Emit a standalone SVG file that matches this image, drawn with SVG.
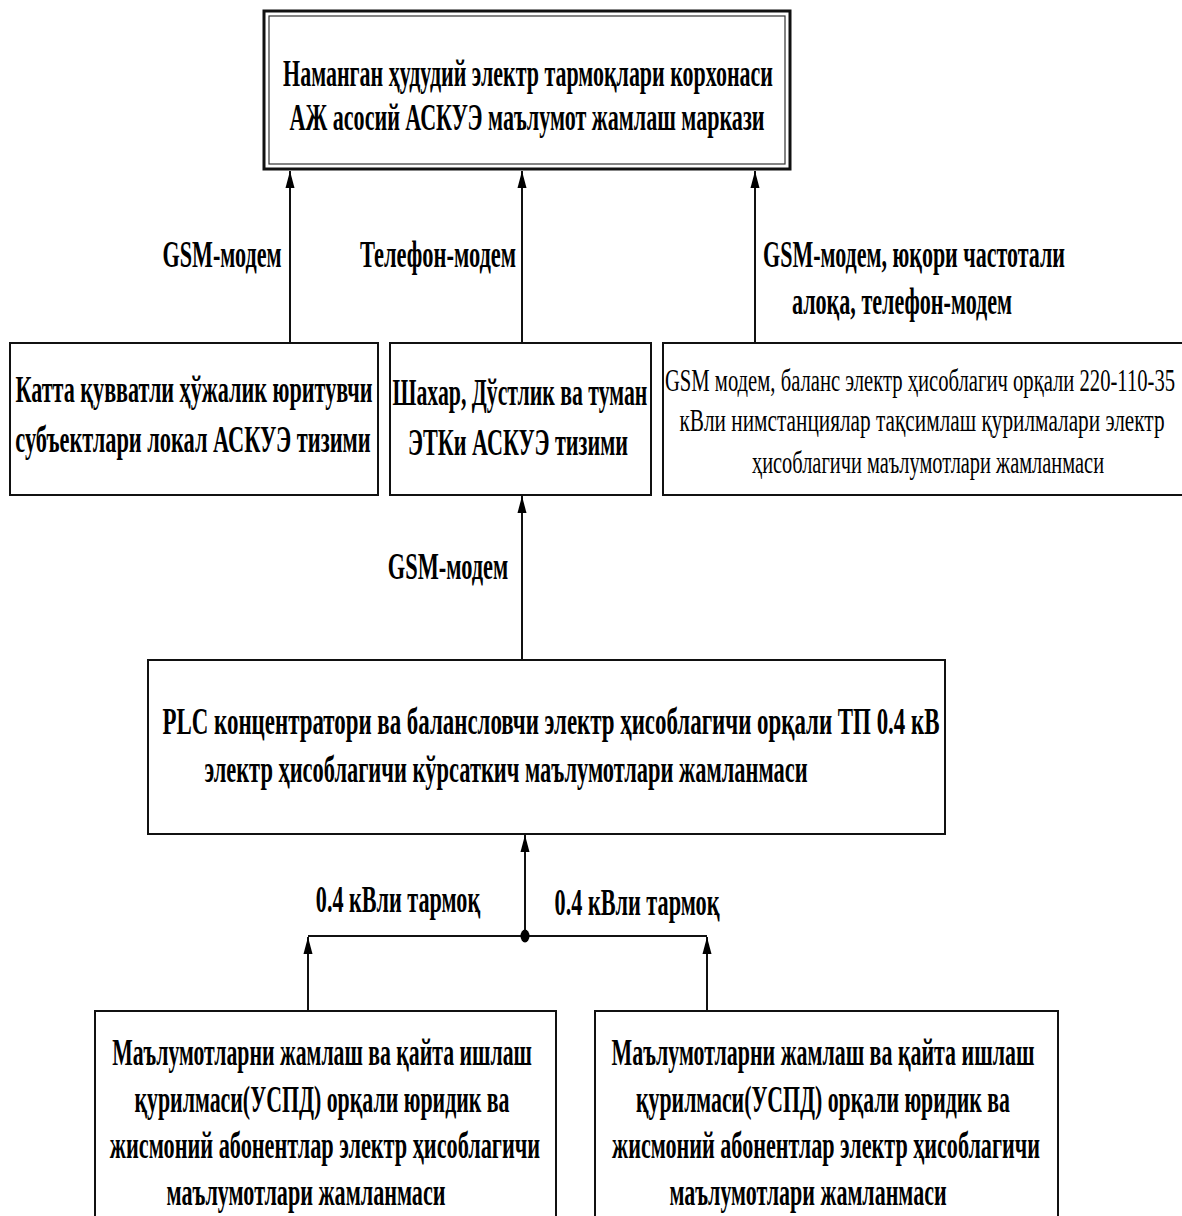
<svg xmlns="http://www.w3.org/2000/svg" width="1182" height="1216" viewBox="0 0 1182 1216">
<defs>
<style>
.box{fill:#fff;stroke:#111;stroke-width:2}
.t{font-family:"Liberation Serif","DejaVu Serif",serif;font-weight:bold;font-size:37px;fill:#000;text-anchor:middle}
.r{font-family:"Liberation Serif","DejaVu Serif",serif;font-weight:normal;font-size:31px;fill:#000;text-anchor:middle}
.c{stroke:#111;stroke-width:2;fill:none}
</style>
<marker id="ah" markerWidth="18" markerHeight="10" refX="17" refY="5" orient="auto" markerUnits="userSpaceOnUse">
<path d="M0,0.5 L17,5 L0,9.5 z" fill="#000"/>
</marker>
</defs>
<rect width="1182" height="1216" fill="#fff"/>

<g id="connectors">
<line class="c" x1="290" y1="343" x2="290" y2="171" marker-end="url(#ah)"/>
<line class="c" x1="522" y1="343" x2="522" y2="171" marker-end="url(#ah)"/>
<line class="c" x1="755" y1="343" x2="755" y2="171" marker-end="url(#ah)"/>
<line class="c" x1="522" y1="660" x2="522" y2="496" marker-end="url(#ah)"/>
<line class="c" x1="525" y1="936" x2="525" y2="835" marker-end="url(#ah)"/>
<line class="c" x1="308" y1="936" x2="707" y2="936"/>
<line class="c" x1="308" y1="1011" x2="308" y2="937" marker-end="url(#ah)"/>
<line class="c" x1="707" y1="1011" x2="707" y2="937" marker-end="url(#ah)"/>
<ellipse cx="525" cy="936" rx="4.5" ry="6.5" fill="#000"/>
<text class="t" transform="translate(222,267) scale(0.62,1)" textLength="192" lengthAdjust="spacingAndGlyphs">GSM-модем</text>
<text class="t" transform="translate(438,267) scale(0.62,1)" textLength="252" lengthAdjust="spacingAndGlyphs">Телефон-модем</text>
<text class="t" transform="translate(914,267) scale(0.62,1)" textLength="487" lengthAdjust="spacingAndGlyphs">GSM-модем, юқори частотали</text>
<text class="t" transform="translate(902,314) scale(0.62,1)" textLength="355" lengthAdjust="spacingAndGlyphs">алоқа, телефон-модем</text>
<text class="t" transform="translate(448,579) scale(0.62,1)" textLength="194" lengthAdjust="spacingAndGlyphs">GSM-модем</text>
<text class="t" transform="translate(398,912) scale(0.62,1)" textLength="265" lengthAdjust="spacingAndGlyphs">0.4 кВли тармоқ</text>
<text class="t" transform="translate(637,915) scale(0.62,1)" textLength="266" lengthAdjust="spacingAndGlyphs">0.4 кВли тармоқ</text>
</g>

<g id="node-main">
<rect x="264" y="11" width="526" height="158" fill="#fff" stroke="#111" stroke-width="3"/>
<rect x="269" y="16" width="516" height="148" fill="none" stroke="#333" stroke-width="1.2"/>
<text class="t" transform="translate(528,86) scale(0.62,1)" textLength="790" lengthAdjust="spacingAndGlyphs" style="font-size:38px">Наманган ҳудудий электр тармоқлари корхонаси</text>
<text class="t" transform="translate(527,130) scale(0.62,1)" textLength="766" lengthAdjust="spacingAndGlyphs" style="font-size:38px">АЖ асосий АСКУЭ маълумот жамлаш маркази</text>
</g>

<g id="node-local">
<rect class="box" x="10" y="343" width="368" height="152"/>
<text class="t" transform="translate(194,402) scale(0.62,1)" textLength="576" lengthAdjust="spacingAndGlyphs">Катта қувватли ҳўжалик юритувчи</text>
<text class="t" transform="translate(193,452) scale(0.62,1)" textLength="573" lengthAdjust="spacingAndGlyphs">субъектлари локал АСКУЭ тизими</text>
</g>

<g id="node-city">
<rect class="box" x="390" y="343" width="261" height="152"/>
<text class="t" transform="translate(520,405) scale(0.62,1)" textLength="411" lengthAdjust="spacingAndGlyphs">Шахар, Дўстлик ва туман</text>
<text class="t" transform="translate(518,455) scale(0.62,1)" textLength="355" lengthAdjust="spacingAndGlyphs">ЭТКи АСКУЭ тизими</text>
</g>

<g id="node-substation">
<rect class="box" x="663" y="343" width="530" height="152"/>
<text class="r" transform="translate(920,391) scale(0.64,1)" textLength="797" lengthAdjust="spacingAndGlyphs">GSM модем, баланс электр ҳисоблагич орқали 220-110-35</text>
<text class="r" transform="translate(922,431) scale(0.7,1)" textLength="693" lengthAdjust="spacingAndGlyphs">кВли  нимстанциялар тақсимлаш қурилмалари электр</text>
<text class="r" transform="translate(928,473) scale(0.7,1)" textLength="503" lengthAdjust="spacingAndGlyphs">ҳисоблагичи  маълумотлари жамланмаси</text>
</g>

<g id="node-plc">
<rect class="box" x="148" y="660" width="797" height="174"/>
<text class="t" transform="translate(551,734) scale(0.62,1)" textLength="1253" lengthAdjust="spacingAndGlyphs">PLC концентратори ва балансловчи электр ҳисоблагичи орқали ТП 0.4 кВ</text>
<text class="t" transform="translate(506,782) scale(0.62,1)" textLength="973" lengthAdjust="spacingAndGlyphs">электр ҳисоблагичи кўрсаткич маълумотлари жамланмаси</text>
</g>

<g id="node-uspd-1">
<rect class="box" x="95" y="1011" width="461" height="215"/>
<text class="t" transform="translate(322,1065) scale(0.62,1)" textLength="677" lengthAdjust="spacingAndGlyphs">Маълумотларни жамлаш ва қайта ишлаш</text>
<text class="t" transform="translate(322,1112) scale(0.62,1)" textLength="605" lengthAdjust="spacingAndGlyphs">қурилмаси(УСПД) орқали юридик ва</text>
<text class="t" transform="translate(325,1158) scale(0.62,1)" textLength="694" lengthAdjust="spacingAndGlyphs">жисмоний абонентлар электр ҳисоблагичи</text>
<text class="t" transform="translate(306,1205) scale(0.62,1)" textLength="450" lengthAdjust="spacingAndGlyphs">маълумотлари жамланмаси</text>
</g>

<g id="node-uspd-2">
<rect class="box" x="595" y="1011" width="463" height="215"/>
<text class="t" transform="translate(823,1065) scale(0.62,1)" textLength="682" lengthAdjust="spacingAndGlyphs">Маълумотларни жамлаш ва қайта ишлаш</text>
<text class="t" transform="translate(823,1112) scale(0.62,1)" textLength="603" lengthAdjust="spacingAndGlyphs">қурилмаси(УСПД) орқали юридик ва</text>
<text class="t" transform="translate(826,1158) scale(0.62,1)" textLength="690" lengthAdjust="spacingAndGlyphs">жисмоний абонентлар электр ҳисоблагичи</text>
<text class="t" transform="translate(808,1205) scale(0.62,1)" textLength="447" lengthAdjust="spacingAndGlyphs">маълумотлари жамланмаси</text>
</g>
</svg>
